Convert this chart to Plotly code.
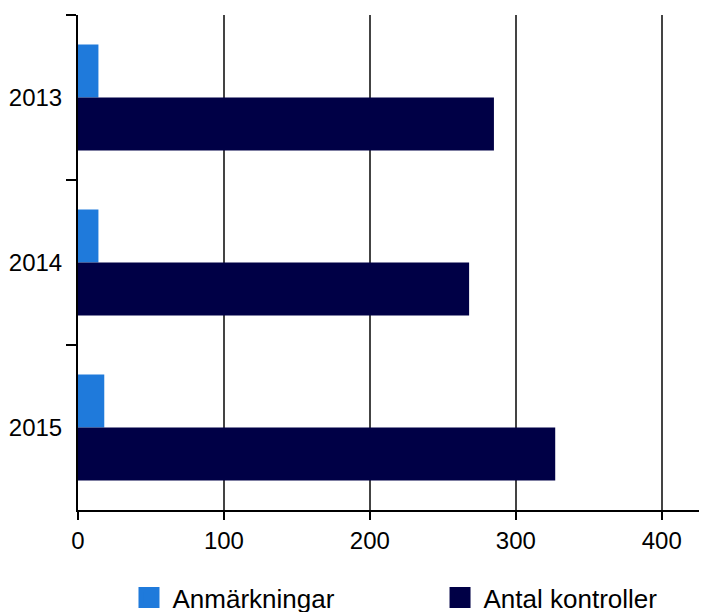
import plotly.graph_objects as go

years = ["2013", "2014", "2015"]
anmarkningar = [14, 14, 18]
antal_kontroller = [285, 268, 327]
series_names = ["Anmärkningar", "Antal kontroller"]
colors = ["#1F7ADB", "#000046"]
x_ticks = [0, 100, 200, 300, 400]
legend_ids = ["legend", "legend2"]

fig = go.Figure()
for name, vals, col, lg in zip(series_names, [anmarkningar, antal_kontroller], colors, legend_ids):
    fig.add_trace(go.Bar(y=years, x=vals, orientation="h", name=name,
                         marker=dict(color=col, line=dict(width=0)),
                         showlegend=False, legendgroup=name))
    fig.add_trace(go.Scatter(x=[None], y=[None], mode="markers", name=name,
                             legendgroup=name, legend=lg,
                             marker=dict(symbol="square", size=16, color=col,
                                         line=dict(color=col, width=6))))

legend_common = dict(orientation="h", y=-0.177, xanchor="left", yanchor="middle",
                     itemsizing="trace", itemwidth=37, font=dict(size=26),
                     bgcolor="rgba(0,0,0,0)")

fig.update_layout(
    width=707, height=612,
    margin=dict(l=70, r=8, t=7, b=110, autoexpand=False),
    paper_bgcolor="white", plot_bgcolor="white",
    barmode="group", bargap=0.358, bargroupgap=0,
    font=dict(family="Liberation Sans, Arial, sans-serif", size=24, color="black"),
    xaxis=dict(range=[0, 431], tickvals=x_ticks, showgrid=True, automargin=False,
               gridcolor="#444444", gridwidth=1.5, zeroline=False,
               showline=True, linecolor="black", linewidth=2,
               ticks="outside", ticklen=8, tickcolor="black", tickwidth=1.5),
    yaxis=dict(autorange="reversed", type="category", showgrid=False, automargin=False,
               showline=True, linecolor="black", linewidth=2,
               ticks="outside", ticklen=10, tickcolor="black", tickwidth=2,
               tickson="boundaries", ticklabelstandoff=9),
    legend=dict(x=0.0755, **legend_common),
    legend2=dict(x=0.570, **legend_common),
)

fig.write_html("out.html")
